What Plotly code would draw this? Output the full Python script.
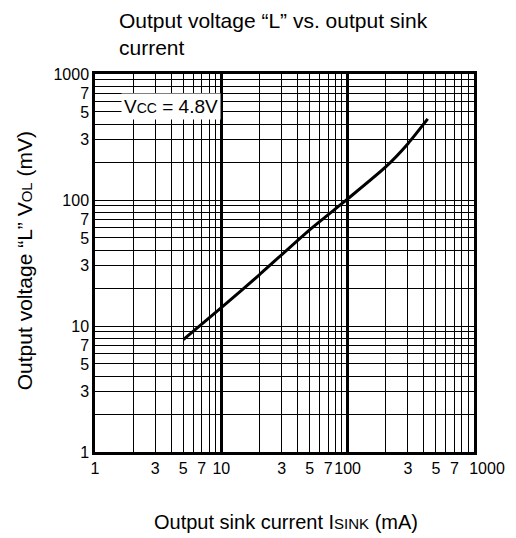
import plotly.graph_objects as go

# Data
isink_ma = [5, 10, 20, 50, 100, 200, 300, 430]
vol_mv = [7.8, 14, 25.5, 58, 102, 183, 280, 440]

x_tick_vals = [1, 3, 5, 7, 10, 30, 50, 70, 100, 300, 500, 700]
x_tick_text = ["1", "3", "5", "7", "10", "3", "5", "7", "100", "3", "5", "7"]
x_end_val = [1000]
x_end_text = ["1000"]
y_tick_vals = [1, 3, 5, 7, 10, 30, 50, 70, 100, 300, 500, 700, 1000]
y_tick_text = ["1", "3", "5", "7", "10", "3", "5", "7", "100", "3", "5", "7", "1000"]
major_decades = [10, 100]

FONT = "Liberation Sans, Arial, sans-serif"

def small(t, size):
    return "<span style='font-size:%dpx'>%s</span>" % (size, t)

fig = go.Figure()
fig.add_trace(go.Scatter(x=isink_ma, y=vol_mv, mode="lines",
                         line=dict(color="black", width=3, shape="spline", smoothing=0.6),
                         showlegend=False, hoverinfo="skip"))
fig.add_trace(go.Scatter(x=[1, 1000], y=[1, 1000], xaxis="x2", mode="markers",
                         marker=dict(opacity=0), showlegend=False, hoverinfo="skip"))
fig.add_trace(go.Scatter(x=[1, 1000], y=[1, 1000], xaxis="x3", mode="markers",
                         marker=dict(opacity=0), showlegend=False, hoverinfo="skip"))

axis_common = dict(type="log", range=[0, 3], showline=True, linecolor="black", linewidth=2.5,
                   mirror=True, gridcolor="black", gridwidth=1, ticks="", automargin=False,
                   tickfont=dict(family=FONT, size=16, color="black"), tickangle=0,
                   minor=dict(showgrid=True, gridcolor="black", gridwidth=1, dtick="D1", ticks=""),
                   zeroline=False, tickmode="array")

fig.update_layout(
    width=508, height=530,
    margin=dict(l=87, r=42, t=66, b=86, autoexpand=False),
    paper_bgcolor="white", plot_bgcolor="white",
    font=dict(family=FONT, size=16, color="black"),
    xaxis=dict(**axis_common, tickvals=x_tick_vals, ticktext=x_tick_text),
    yaxis=dict(**axis_common, tickvals=y_tick_vals, ticktext=y_tick_text),
    xaxis2=dict(type="log", range=[0, 3], overlaying="x", side="bottom", showticklabels=False,
                tickmode="array", tickvals=major_decades, showgrid=True, gridcolor="black",
                gridwidth=2.5, ticks="", showline=False, zeroline=False, automargin=False),
    xaxis3=dict(type="log", range=[0, 3], overlaying="x", side="bottom", showgrid=False,
                tickmode="array", tickvals=x_end_val, ticktext=x_end_text, ticklabelshift=13,
                tickfont=dict(family=FONT, size=16, color="black"), tickangle=0,
                ticks="", showline=True, linecolor="black", linewidth=2.5,
                zeroline=False, automargin=False),
    annotations=[
        dict(text="Output voltage “L” vs. output sink<br>current", x=0.058, y=1.177,
             xref="paper", yref="paper", xanchor="left", yanchor="top", align="left",
             showarrow=False, font=dict(family=FONT, size=21, color="black")),
        dict(text="Output sink current I" + small("SINK", 15) + " (mA)", x=0.504, y=-0.185,
             xref="paper", yref="paper", xanchor="center", yanchor="middle",
             showarrow=False, font=dict(family=FONT, size=20, color="black")),
        dict(text="Output voltage “L” V" + small("OL", 15) + " (mV)", x=-0.187, y=0.505,
             xref="paper", yref="paper", xanchor="center", yanchor="middle", textangle=-90,
             showarrow=False, font=dict(family=FONT, size=21, color="black")),
        dict(text="V" + small("CC", 14) + " = 4.8V", x=0.2005, y=0.915,
             xref="paper", yref="paper", showarrow=False, bgcolor="white",
             font=dict(family=FONT, size=19, color="black"),
             borderpad=2, xanchor="center", yanchor="middle"),
    ],
)

fig.write_html("out.html")
